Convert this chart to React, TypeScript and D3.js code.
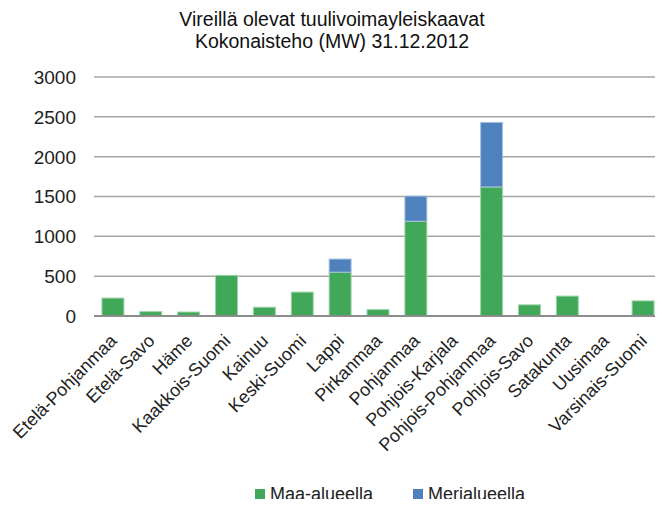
import React from "react";
import * as d3 from "d3";

const categories = [
  "Etelä-Pohjanmaa", "Etelä-Savo", "Häme", "Kaakkois-Suomi", "Kainuu", "Keski-Suomi",
  "Lappi", "Pirkanmaa", "Pohjanmaa", "Pohjois-Karjala", "Pohjois-Pohjanmaa",
  "Pohjois-Savo", "Satakunta", "Uusimaa", "Varsinais-Suomi",
];
const maaAlueella = [225, 55, 50, 510, 110, 300, 550, 80, 1190, 0, 1620, 140, 250, 0, 190];
const merialueella = [0, 0, 0, 0, 0, 0, 165, 0, 315, 0, 810, 0, 0, 0, 0];
const yTicks = [0, 500, 1000, 1500, 2000, 2500, 3000];
const seriesNames = ["Maa-alueella", "Merialueella"];
const colors = ["#41a85a", "#4f81bd"];
const titleLines = ["Vireillä olevat tuulivoimayleiskaavat", "Kokonaisteho (MW) 31.12.2012"];

const W = 663, H = 507;
const left = 94, right = 662, top = 77, bottom = 316;
const FONT = "'Liberation Sans', Arial, Helvetica, sans-serif";

export default function App() {
  const x = d3.scaleBand<string>().domain(categories).range([left, right]).paddingInner(0.42).paddingOuter(0.21);
  const y = d3.scaleLinear().domain([0, 3000]).range([bottom, top]);
  const stackData = categories.map((c, i) => ({ cat: c, maa: maaAlueella[i], meri: merialueella[i] }));
  const stack = d3.stack<any>().keys(["maa", "meri"])(stackData);

  return (
    <div style={{ margin: -8 }}>
      <svg width={W} height={H} style={{ display: "block", background: "#fff" }} fontFamily={FONT}>
        {titleLines.map((t, i) => (
          <text key={i} x={332} y={26 + i * 22} textAnchor="middle" fontSize={19.5} fill="#111">{t}</text>
        ))}
        {yTicks.map((t) => (
          <g key={t}>
            {t > 0 && <line x1={left} x2={right} y1={y(t)} y2={y(t)} stroke="#a6a6a6" strokeWidth={1.5} />}
            <text x={76} y={y(t)} dy="0.36em" textAnchor="end" fontSize={19} fill="#222">{t}</text>
          </g>
        ))}
        {stack.map((s, si) => (
          <g key={si}>
            {s.map((d, i) => {
              const h = y(d[0]) - y(d[1]);
              if (h <= 0) return null;
              return (
                <rect key={i} x={x(categories[i])} y={y(d[1])} width={x.bandwidth()} height={h}
                  fill={colors[si]} stroke={si === 0 ? "#9ed3a8" : "#a9c1e0"} strokeWidth={1} />
              );
            })}
          </g>
        ))}
        <line x1={left} x2={right} y1={bottom} y2={bottom} stroke="#8c8c8c" strokeWidth={2} />
        {categories.map((c) => {
          const cx = (x(c) as number) + x.bandwidth() / 2;
          return (
            <text key={c} transform={`translate(${cx + 5},${bottom + 26}) rotate(-45)`} textAnchor="end"
              fontSize={18} fill="#222">{c}</text>
          );
        })}
        {seriesNames.map((n, i) => {
          const lx = i === 0 ? 255 : 413;
          return (
            <g key={n}>
              <rect x={lx} y={489} width={10} height={10} fill={colors[i]} />
              <text x={lx + 15} y={500} fontSize={18} fill="#222">{n}</text>
            </g>
          );
        })}
      </svg>
    </div>
  );
}
